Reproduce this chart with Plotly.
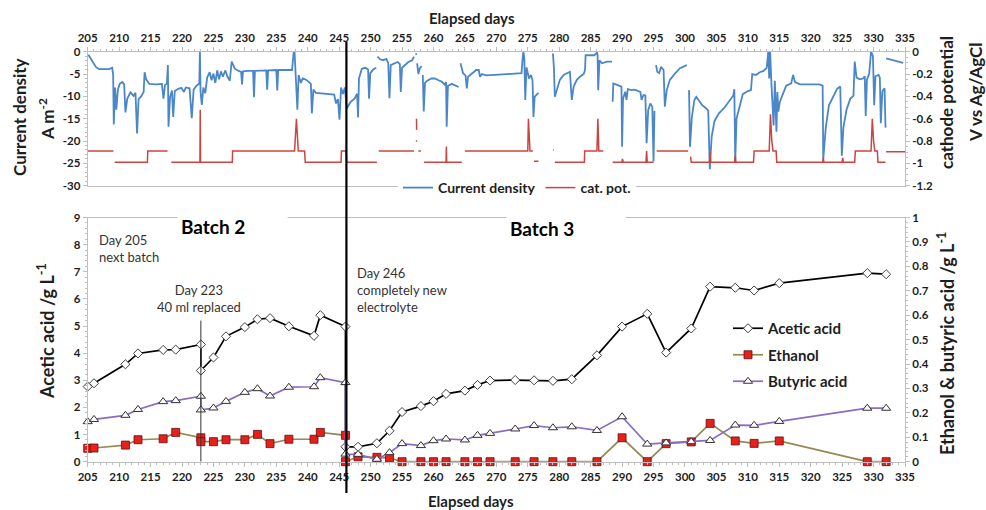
import plotly.graph_objects as go

W, H = 986, 510

# ---------------- top panel: current density (A m-2) and cathode potential (V) ----------------
current_density = [
    (205.1, -0.7), (205.6, -1.9), (206.3, -3.4), (206.8, -3.9), (208.4, -3.9), (208.9, -3.6),
    (209.05, -5.2), (209.15, -16.3), (209.35, -8.0), (209.55, -13.0), (209.8, -8.5), (210.1, -7.2),
    (210.5, -6.8), (210.8, -7.3), (211.0, -13.6), (211.3, -10.5), (211.8, -9.1), (212.3, -9.9),
    (212.6, -9.2), (212.85, -18.3), (213.1, -10.6), (213.5, -10.0), (213.9, -9.0), (214.05, -4.6),
    (214.3, -6.2), (214.8, -7.2), (215.8, -7.3), (216.8, -7.2), (217.05, -10.5), (217.3, -7.5),
    (217.6, -7.1), (217.75, -3.0), (217.85, -16.8), (218.1, -10.2), (218.4, -8.7), (218.6, -14.6),
    (218.85, -8.8), (219.4, -8.3), (219.9, -8.1), (220.3, -9.0), (220.6, -8.0), (221.2, -8.2),
    (221.55, -14.9), (221.85, -8.5), (222.3, -7.6), (222.75, -7.2), (222.85, 0.0), (222.95, -9.0),
    (223.15, -11.9), (223.4, -8.0), (223.7, -9.3), (224.0, -5.8), (224.4, -4.6), (224.7, -6.4),
    (225.0, -4.9), (225.3, -7.0), (225.6, -4.2), (225.9, -6.2), (226.2, -4.4), (226.5, -5.6),
    (226.9, -4.2), (227.2, -5.5), (227.6, -6.5), (227.9, -2.2), (228.4, -3.8), (229.0, -4.3),
    (229.4, -4.5), (229.55, -7.3), (229.7, -4.4), (230.5, -4.3), (231.3, -4.3), (231.45, -10.2),
    (231.6, -4.3), (233.4, -4.2), (233.55, -8.5), (233.7, -4.2), (235.0, -4.1), (235.15, -8.7),
    (235.3, -4.1), (237.5, -4.1), (237.75, -0.3), (237.9, 0.0), (238.05, -4.0), (238.2, -6.0),
    (238.35, -13.0), (238.55, -5.2), (238.9, -7.0), (239.2, -6.0), (239.6, -6.2), (240.1, -6.7),
    (240.5, -7.2), (240.65, -13.8), (240.9, -8.5), (241.3, -9.2), (242.5, -9.3), (243.5, -9.4),
    (244.2, -9.6), (244.5, -11.6), (244.8, -10.6), (245.05, -15.2), (245.3, -8.0), (245.6, -9.5),
    (245.9, -8.0), (246.2, -12.7), (246.8, -11.3), (247.5, -10.4), (247.85, -9.4), (248.0, -14.7),
    (248.15, -6.0), (248.6, -3.8), (249.2, -3.6), (249.6, -4.0), (249.75, -10.5), (249.95, -4.8),
    (250.4, -4.0), (250.9, -3.6), (None, None),
    (251.1, -1.1), (251.5, -1.7), (252.0, -1.9), (252.5, -1.6), (252.8, -2.5), (253.0, -10.4),
    (253.2, -3.0), (253.7, -2.6), (254.3, -2.3), (254.65, -2.8), (254.8, -9.0), (255.0, -3.6),
    (255.5, -3.0), (256.0, -2.3), (256.6, -1.9), (256.9, -1.1), (None, None),
    (257.2, -0.4), (257.3, -0.7), (None, None),
    (257.4, -2.6), (257.6, -5.0), (257.8, -3.8), (258.1, -3.2), (None, None),
    (258.3, -5.2), (258.45, -13.4), (258.65, -7.0), (259.0, -6.5), (259.7, -6.0), (260.2, -6.0),
    (260.8, -6.4), (261.3, -6.7), (261.8, -7.4), (262.0, -6.8), (262.1, -16.8), (262.3, -7.7),
    (262.9, -7.2), (263.5, -7.5), (264.0, -7.9), (None, None),
    (264.3, -2.6), (264.7, -4.8), (265.1, -5.3), (265.3, -8.2), (265.5, -5.6), (266.0, -5.1),
    (266.8, -4.1), (267.2, -4.1), (267.4, -5.6), (267.7, -5.0), (268.4, -5.3), (269.8, -5.2),
    (271.5, -5.0), (273.2, -4.9), (274.0, -4.8), (274.2, -1.1), (274.3, 0.0), (274.45, -1.5),
    (274.6, -10.8), (274.8, -3.5), (275.0, -4.9), (275.2, -6.0), (275.5, -5.2), (275.75, -6.3),
    (275.9, -14.6), (276.1, -10.1), (276.4, -9.6), (276.7, -9.2), (None, None),
    (279.0, -0.4), (279.15, -3.4), (279.3, -10.1), (279.6, -8.6), (280.1, -6.3), (280.7, -5.2),
    (281.2, -4.9), (281.7, -4.5), (282.0, -10.8), (282.3, -7.8), (282.8, -6.3), (283.3, -5.6),
    (283.9, -5.0), (284.1, -4.1), (284.2, -0.8), (284.8, -0.8), (285.6, -0.8), (286.0, -0.2),
    (286.1, -0.6), (286.2, -8.6), (286.4, -1.9), (286.8, -2.6), (287.6, -2.2), (288.4, -2.2),
    (None, None),
    (288.5, -11.2), (288.6, -7.1), (289.0, -7.3), (289.6, -7.6), (289.9, -7.8), (290.0, -21.3),
    (290.15, -10.5), (290.5, -9.0), (290.7, -10.8), (290.9, -8.4), (291.5, -8.6), (292.0, -8.5),
    (292.5, -8.8), (292.9, -9.0), (293.1, -10.8), (293.4, -9.7), (293.7, -9.8), (293.9, -20.5),
    (294.15, -13.1), (294.5, -11.6), (294.8, -12.3), (295.0, -24.6), (295.15, -13.2), (None, None),
    (295.4, -3.0), (295.6, -4.5), (295.9, -4.8), (296.2, -3.4), (296.6, -4.1), (296.8, -12.3),
    (297.1, -8.6), (297.6, -6.3), (298.4, -4.9), (299.2, -3.7), (300.3, -3.0), (None, None),
    (300.65, -8.6), (300.8, -21.3), (301.1, -14.6), (301.5, -10.8), (301.8, -10.1), (302.1, -10.8),
    (302.7, -11.9), (303.4, -12.7), (303.7, -13.2), (303.95, -26.3), (304.25, -19.0), (304.7, -15.5),
    (305.4, -13.8), (306.3, -12.5), (307.0, -11.0), (307.7, -9.8), (307.85, -8.4), (308.0, -24.5),
    (308.2, -15.0), (308.7, -12.0), (309.2, -9.5), (310.0, -8.8), (310.5, -8.6), (310.7, -5.0),
    (311.3, -5.2), (311.9, -4.6), (312.5, -4.3), (313.0, -3.6), (313.25, 0.0), (313.4, -6.0),
    (313.55, 0.0), (313.75, -7.0), (314.1, -16.5), (314.3, -6.5), (314.55, -17.9), (314.7, -9.0),
    (314.85, -13.4), (315.1, -11.2), (315.6, -9.2), (316.1, -7.6), (316.9, -7.1), (317.2, -5.2),
    (317.5, -6.8), (318.3, -7.3), (321.4, -7.3), (321.9, -7.6), (322.0, -24.0), (322.4, -17.0),
    (322.9, -12.0), (323.6, -9.8), (324.2, -8.3), (324.7, -7.8), (324.95, -23.3), (325.2, -17.0),
    (325.7, -13.0), (326.3, -10.5), (326.8, -9.9), (327.0, -2.2), (327.3, -5.8), (327.8, -6.2),
    (328.3, -6.0), (328.6, -5.5), (328.75, -14.4), (328.95, -6.2), (329.3, -5.0), (329.6, 0.0),
    (329.9, -1.0), (330.1, -12.0), (330.3, -5.5), (330.8, -5.2), (331.0, -5.8), (331.15, -16.0),
    (331.4, -8.8), (331.75, -8.2), (331.9, -17.0), (None, None),
    (332.0, -1.5), (333.2, -1.9), (334.7, -2.5),
]

cathode_potential = [
    (205.0, -0.89), (209.1, -0.89), (None, None),
    (209.3, -0.99), (214.5, -0.99), (214.55, -0.89), (217.7, -0.89), (None, None),
    (218.3, -0.99), (222.85, -0.99), (222.9, -0.52), (222.95, -0.99), (228.0, -0.99),
    (228.05, -0.89), (237.9, -0.89), (238.05, -0.75), (238.2, -0.6), (238.35, -0.75),
    (238.5, -0.89), (239.5, -0.89), (239.6, -0.99), (245.3, -0.99), (245.35, -0.89),
    (246.1, -0.89), (246.2, -0.99), (251.0, -0.99), (None, None),
    (251.3, -0.89), (256.9, -0.89), (None, None),
    (257.3, -0.6), (257.32, -0.7), (None, None),
    (257.2, -0.8), (257.4, -0.8), (None, None),
    (257.6, -0.89), (258.0, -0.89), (None, None),
    (258.5, -0.99), (262.0, -0.99), (262.05, -0.85), (262.1, -0.99), (264.5, -0.99), (None, None),
    (265.0, -0.89), (275.0, -0.89), (275.1, -0.6), (275.2, -0.75), (275.35, -0.89),
    (275.8, -0.89), (None, None),
    (276.0, -0.98), (276.7, -0.98), (None, None),
    (279.0, -0.88), (279.12, -0.88), (None, None),
    (279.3, -0.99), (284.0, -0.99), (284.05, -0.89), (286.0, -0.89), (286.15, -0.6),
    (286.3, -0.89), (287.0, -0.89), (None, None),
    (288.5, -0.99), (290.0, -0.99), (290.05, -0.96), (290.2, -0.99), (293.8, -0.99),
    (293.9, -0.89), (294.0, -0.99), (295.0, -0.99), (None, None),
    (295.5, -0.89), (300.5, -0.89), (None, None),
    (300.9, -0.94), (301.0, -0.99), (303.9, -0.99), (304.0, -0.9), (304.1, -0.99),
    (307.9, -0.99), (308.0, -0.93), (308.1, -0.99), (310.9, -0.99), (311.0, -0.89),
    (313.4, -0.89), (313.6, -0.56), (313.8, -0.79), (314.0, -0.89), (314.5, -0.89),
    (314.6, -0.99), (321.9, -0.99), (322.0, -0.95), (322.1, -0.99), (325.0, -0.99),
    (325.1, -0.95), (325.2, -0.99), (327.0, -0.99), (327.1, -0.89), (329.6, -0.89),
    (329.8, -0.6), (330.0, -0.8), (330.2, -0.89), (330.6, -0.89), (330.7, -0.99),
    (331.9, -0.99), (None, None),
    (332.0, -0.895), (335.0, -0.895),
]

# ---------------- bottom panel: product concentrations ----------------
sample_day = [205, 206, 211, 213, 217, 219, 223, 223, 225, 227,
              230, 232, 234, 237, 241, 242, 246, 246, 248, 251,
              253, 255, 258, 260, 262, 265, 267, 269, 273, 276,
              279, 282, 286, 290, 294, 297, 301, 304, 308, 311,
              315, 329, 332]
acetic_acid = [2.77, 2.89, 3.59, 3.99, 4.12, 4.13, 4.32, 3.36, 3.84, 4.62,
               4.96, 5.25, 5.29, 4.99, 4.64, 5.40, 4.98, 0.55, 0.55, 0.68,
               1.14, 1.83, 2.05, 2.23, 2.50, 2.62, 2.83, 2.99, 3.01, 3.00,
               2.98, 3.04, 3.92, 4.98, 5.45, 4.02, 4.91, 6.45, 6.41, 6.31,
               6.58, 6.95, 6.91]
ethanol = [0.055, 0.056, 0.068, 0.090, 0.094, 0.120, 0.098, 0.082, 0.082, 0.090,
           0.090, 0.112, 0.074, 0.092, 0.092, 0.120, 0.108, 0.0, 0.020, 0.018,
           0.016, 0.0, 0.0, 0.0, 0.0, 0.0, 0.0, 0.0, 0.0, 0.0,
           0.0, 0.0, 0.0, 0.098, 0.0, 0.074, 0.081, 0.157, 0.085, 0.075,
           0.085, 0.0, 0.0]
butyric_acid = [0.164, 0.173, 0.190, 0.214, 0.246, 0.250, 0.268, 0.212, 0.220, 0.247,
                0.284, 0.299, 0.269, 0.305, 0.307, 0.344, 0.324, 0.031, 0.030, 0.010,
                0.037, 0.074, 0.066, 0.086, 0.093, 0.089, 0.108, 0.116, 0.134, 0.148,
                0.139, 0.143, 0.128, 0.184, 0.072, 0.077, 0.082, 0.087, 0.150, 0.149,
                0.165, 0.219, 0.219]

# events
new_electrolyte_day = 246.15
partial_replace_day = 223
partial_replace_marker_top = 5.2

# tick labels
x_ticks = list(range(205, 340, 5))
cd_ticks = [0, -5, -10, -15, -20, -25, -30]
cd_ticktext = ["0", "-5", "-10", "-15", "-20", "-25", "-30"]
cp_ticks = [0, -0.2, -0.4, -0.6, -0.8, -1.0, -1.2]
cp_ticktext = ["0", "-0.2", "-0.4", "-0.6", "-0.8", "-1", "-1.2"]
aa_ticks = list(range(0, 10))
eb_ticks = [0, 0.1, 0.2, 0.3, 0.4, 0.5, 0.6, 0.7, 0.8, 0.9, 1.0]
eb_ticktext = ["0", "0.1", "0.2", "0.3", "0.4", "0.5", "0.6", "0.7", "0.8", "0.9", "1"]

BLUE = "#4a86c8"
RED = "#cc4440"
AXIS = "#bfbfbf"
TXT = "#1e1e1e"
FONT = "Lato"


def px(p):
    return p / W


def py(p):
    return 1 - p / H


X_DOM = [px(87.7), px(905)]
TOP_DOM = [py(185.7), py(51.7)]
BOT_DOM = [py(461.7), py(217.5)]

fig = go.Figure()

fig.add_trace(go.Scatter(
    x=[p[0] for p in current_density], y=[p[1] for p in current_density],
    mode="lines", name="Current density", line=dict(color=BLUE, width=1.8),
    xaxis="x", yaxis="y", legend="legend", connectgaps=False))
fig.add_trace(go.Scatter(
    x=[p[0] for p in cathode_potential], y=[p[1] for p in cathode_potential],
    mode="lines", name="cat. pot.", line=dict(color=RED, width=1.5),
    xaxis="x", yaxis="y2", legend="legend", connectgaps=False))

fig.add_trace(go.Scatter(
    x=sample_day, y=acetic_acid, mode="lines+markers", name="Acetic acid",
    line=dict(color="black", width=1.7),
    marker=dict(symbol="diamond", size=7, color="white", line=dict(color="#404040", width=1)),
    xaxis="x2", yaxis="y3", legend="legend2", legendgroup="a", cliponaxis=False))
fig.add_trace(go.Scatter(
    x=sample_day, y=ethanol, mode="lines+markers", name="Ethanol",
    line=dict(color="#948a54", width=1.7),
    marker=dict(symbol="square", size=8, color="#e8201c", line=dict(color="#5a1010", width=0.8)),
    xaxis="x2", yaxis="y4", legend="legend2", legendgroup="b", cliponaxis=False))
fig.add_trace(go.Scatter(
    x=sample_day, y=butyric_acid, mode="lines+markers", name="Butyric acid",
    line=dict(color="#8a6cc4", width=1.7),
    marker=dict(symbol="triangle-up", size=8, color="white", line=dict(color="#303030", width=1)),
    xaxis="x2", yaxis="y4", legend="legend2", legendgroup="c", cliponaxis=False))

tickfont = dict(family=FONT, size=11.5, color=TXT, weight="bold")
common = dict(showgrid=False, zeroline=False, showline=True, linecolor=AXIS, linewidth=1,
              ticks="outside", ticklen=4, tickcolor=AXIS, tickfont=tickfont)

fig.update_layout(
    width=W, height=H, margin=dict(l=0, r=0, t=0, b=0, autoexpand=False),
    paper_bgcolor="white", plot_bgcolor="white",
    font=dict(family=FONT, color=TXT),
    xaxis=dict(domain=X_DOM, range=[205, 335], anchor="y", side="top", mirror=True,
               tickvals=x_ticks, minor=dict(dtick=1, ticks="outside", ticklen=2, tickcolor=AXIS),
               **common),
    yaxis=dict(domain=TOP_DOM, range=[-30, 0], anchor="x", tickvals=cd_ticks, ticktext=cd_ticktext,
               minor=dict(dtick=1, ticks="outside", ticklen=2, tickcolor=AXIS), **common),
    yaxis2=dict(range=[-1.2, 0], anchor="x", overlaying="y", side="right",
                tickvals=cp_ticks, ticktext=cp_ticktext,
                minor=dict(dtick=0.05, ticks="outside", ticklen=2, tickcolor=AXIS), **common),
    xaxis2=dict(domain=X_DOM, range=[205, 335], anchor="y3", side="bottom", mirror=True,
                tickvals=x_ticks, minor=dict(dtick=1, ticks="outside", ticklen=2, tickcolor=AXIS),
                **common),
    yaxis3=dict(domain=BOT_DOM, range=[0, 9], anchor="x2", tickvals=aa_ticks,
                minor=dict(dtick=0.2, ticks="outside", ticklen=2, tickcolor=AXIS), **common),
    yaxis4=dict(range=[0, 1], anchor="x2", overlaying="y3", side="right",
                tickvals=eb_ticks, ticktext=eb_ticktext,
                minor=dict(dtick=0.02, ticks="outside", ticklen=2, tickcolor=AXIS), **common),
    legend=dict(orientation="h", x=px(398), xanchor="left", y=py(188), yanchor="middle",
                bgcolor="white", font=dict(family=FONT, size=14, color=TXT, weight="bold"),
                itemwidth=30),
    legend2=dict(orientation="v", x=px(728), xanchor="left", y=py(312), yanchor="top",
                 bgcolor="rgba(0,0,0,0)", font=dict(family=FONT, size=15, color=TXT, weight="bold"),
                 tracegroupgap=4, itemwidth=30),
)

title_font = dict(family=FONT, size=17, color=TXT)
ann = [
    dict(text="<b>Elapsed days</b>", x=px(472), y=py(18), font=dict(family=FONT, size=15, color=TXT)),
    dict(text="<b>Elapsed days</b>", x=px(471), y=py(501), font=dict(family=FONT, size=15, color=TXT)),
    dict(text="<b>Current density</b>", x=px(20), y=py(117), textangle=-90, font=title_font),
    dict(text="<b>A m<sup>-2</sup></b>", x=px(46), y=py(119), textangle=-90, font=title_font),
    dict(text="<b>cathode potential</b>", x=px(947), y=py(103), textangle=-90, font=title_font),
    dict(text="<b>V vs Ag/AgCl</b>", x=px(975), y=py(92), textangle=-90, font=title_font),
    dict(text="<b>Acetic acid /g L<sup>-1</sup></b>", x=px(46), y=py(331), textangle=-90,
         font=dict(family=FONT, size=18, color=TXT)),
    dict(text="<b>Ethanol &amp; butyric acid /g L<sup>-1</sup></b>", x=px(946), y=py(344), textangle=-90,
         font=dict(family=FONT, size=18, color=TXT)),
]
for a in ann:
    a.update(xref="paper", yref="paper", showarrow=False, xanchor="center", yanchor="middle")
    fig.add_annotation(**a)

fig.add_annotation(text="<b>Batch 2</b>", xref="paper", yref="paper", x=px(177), y=py(226),
                   xanchor="left", yanchor="middle", width=103, align="left", bgcolor="white",
                   borderpad=3, showarrow=False, font=dict(family=FONT, size=19, color="black"))
fig.add_annotation(text="<b>Batch 3</b>", xref="paper", yref="paper", x=px(506), y=py(229),
                   xanchor="left", yanchor="middle", width=112, align="left", bgcolor="white",
                   borderpad=3, showarrow=False, font=dict(family=FONT, size=19, color="black"))

note_font = dict(family=FONT, size=13, color="#333333")
fig.add_annotation(text="Day 205<br>next batch", xref="paper", yref="paper", x=px(97), y=py(248.5),
                   xanchor="left", yanchor="middle", align="left", showarrow=False, font=note_font)
fig.add_annotation(text="Day 223<br>40 ml replaced", xref="paper", yref="paper", x=px(199), y=py(298.5),
                   xanchor="center", yanchor="middle", align="center", showarrow=False, font=note_font)
fig.add_annotation(text="Day 246<br>completely new<br>electrolyte", xref="paper", yref="paper",
                   x=px(355), y=py(290), xanchor="left", yanchor="middle", align="left",
                   showarrow=False, font=note_font)

fig.add_shape(type="line", xref="x2", yref="paper", x0=new_electrolyte_day, x1=new_electrolyte_day,
              y0=py(493), y1=py(42), line=dict(color="black", width=2.2), layer="above")
fig.add_shape(type="line", xref="x2", yref="y3", x0=partial_replace_day, x1=partial_replace_day,
              y0=0, y1=partial_replace_marker_top, line=dict(color="#333333", width=1), layer="above")

fig.write_html("out.html", post_script="document.body.style.margin='0';document.body.style.overflow='hidden';")
